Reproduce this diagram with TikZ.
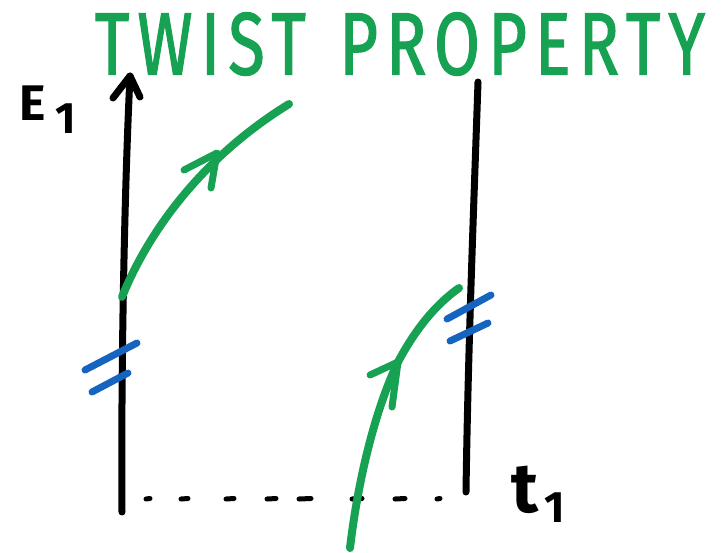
\documentclass[tikz,border=0pt]{standalone}
\usepackage{fontspec}
\setmainfont{Fira Sans}
\newfontfamily\titlefont{Fira Sans}[FakeBold=1.6,LetterSpace=12]
\definecolor{mkgreen}{HTML}{17A152}
\definecolor{mkblue}{HTML}{1565C0}
\begin{document}
\begin{tikzpicture}[x=1pt,y=-1pt,
  stroke/.style={line width=7pt,line cap=round,line join=round},
  thin stroke/.style={line width=5pt,line cap=round},
  lbl/.style={inner sep=0pt,font=\fontsize{50}{50}\selectfont\bfseries}]
\useasboundingbox (0,0) rectangle (722,552);
% title
\node[mkgreen,inner sep=0pt] (title) at (400,44) {\resizebox{610pt}{62pt}{\titlefont TWIST\hspace{0.5em}PROPERTY}};
% labels
\node[lbl] (E) at (33,103) {E};
\node[lbl,font=\fontsize{44}{44}\selectfont\bfseries] (Esub) at (66,119) {1};
\node[lbl,font=\fontsize{70}{70}\selectfont\bfseries] (t) at (525,490) {t};
\node[lbl,font=\fontsize{44}{44}\selectfont\bfseries] (tsub) at (555,508) {1};
% key points
\coordinate (Lbot) at (122,512);
\coordinate (Ltop) at (130,76);
\coordinate (Rbot) at (466,492);
\coordinate (Rtop) at (478,82);
\coordinate (g1s) at (122,297);
\coordinate (g1e) at (289,104);
\coordinate (g2s) at (350,548);
\coordinate (g2m) at (398,362);
\coordinate (g2e) at (459,288);
% dashed baseline
\foreach \a/\b in {146/150,181/188,226/234,267/276,299/311,352/362,395/405,437/440}
  \draw[thin stroke] (\a,499) -- (\b,498.5);
% axes
\draw[stroke] (Lbot) .. controls (121,380) and (124,200) .. (Ltop);
\draw[stroke] (113,98) -- (Ltop) -- (140,97);
\draw[stroke] (Rbot) .. controls (468,350) and (474,200) .. (Rtop);
% green curves
\draw[stroke,mkgreen,line width=8pt] (g1s) .. controls (145,240) and (195,162) .. (g1e);
\draw[stroke,mkgreen] (184,170) -- (217,153) -- (211,188);
\draw[stroke,mkgreen,line width=8pt] (g2s) .. controls (358,480) and (375,410) .. (g2m)
  .. controls (415,330) and (435,305) .. (g2e);
\draw[stroke,mkgreen] (370,375) -- (g2m) -- (392,407);
% blue marks
\draw[stroke,mkblue] (85,370) -- (137,343);
\draw[stroke,mkblue] (92,392) -- (128,373);
\draw[stroke,mkblue] (447,319) -- (491,295);
\draw[stroke,mkblue] (450,341) -- (488,323);
\end{tikzpicture}
\end{document}
